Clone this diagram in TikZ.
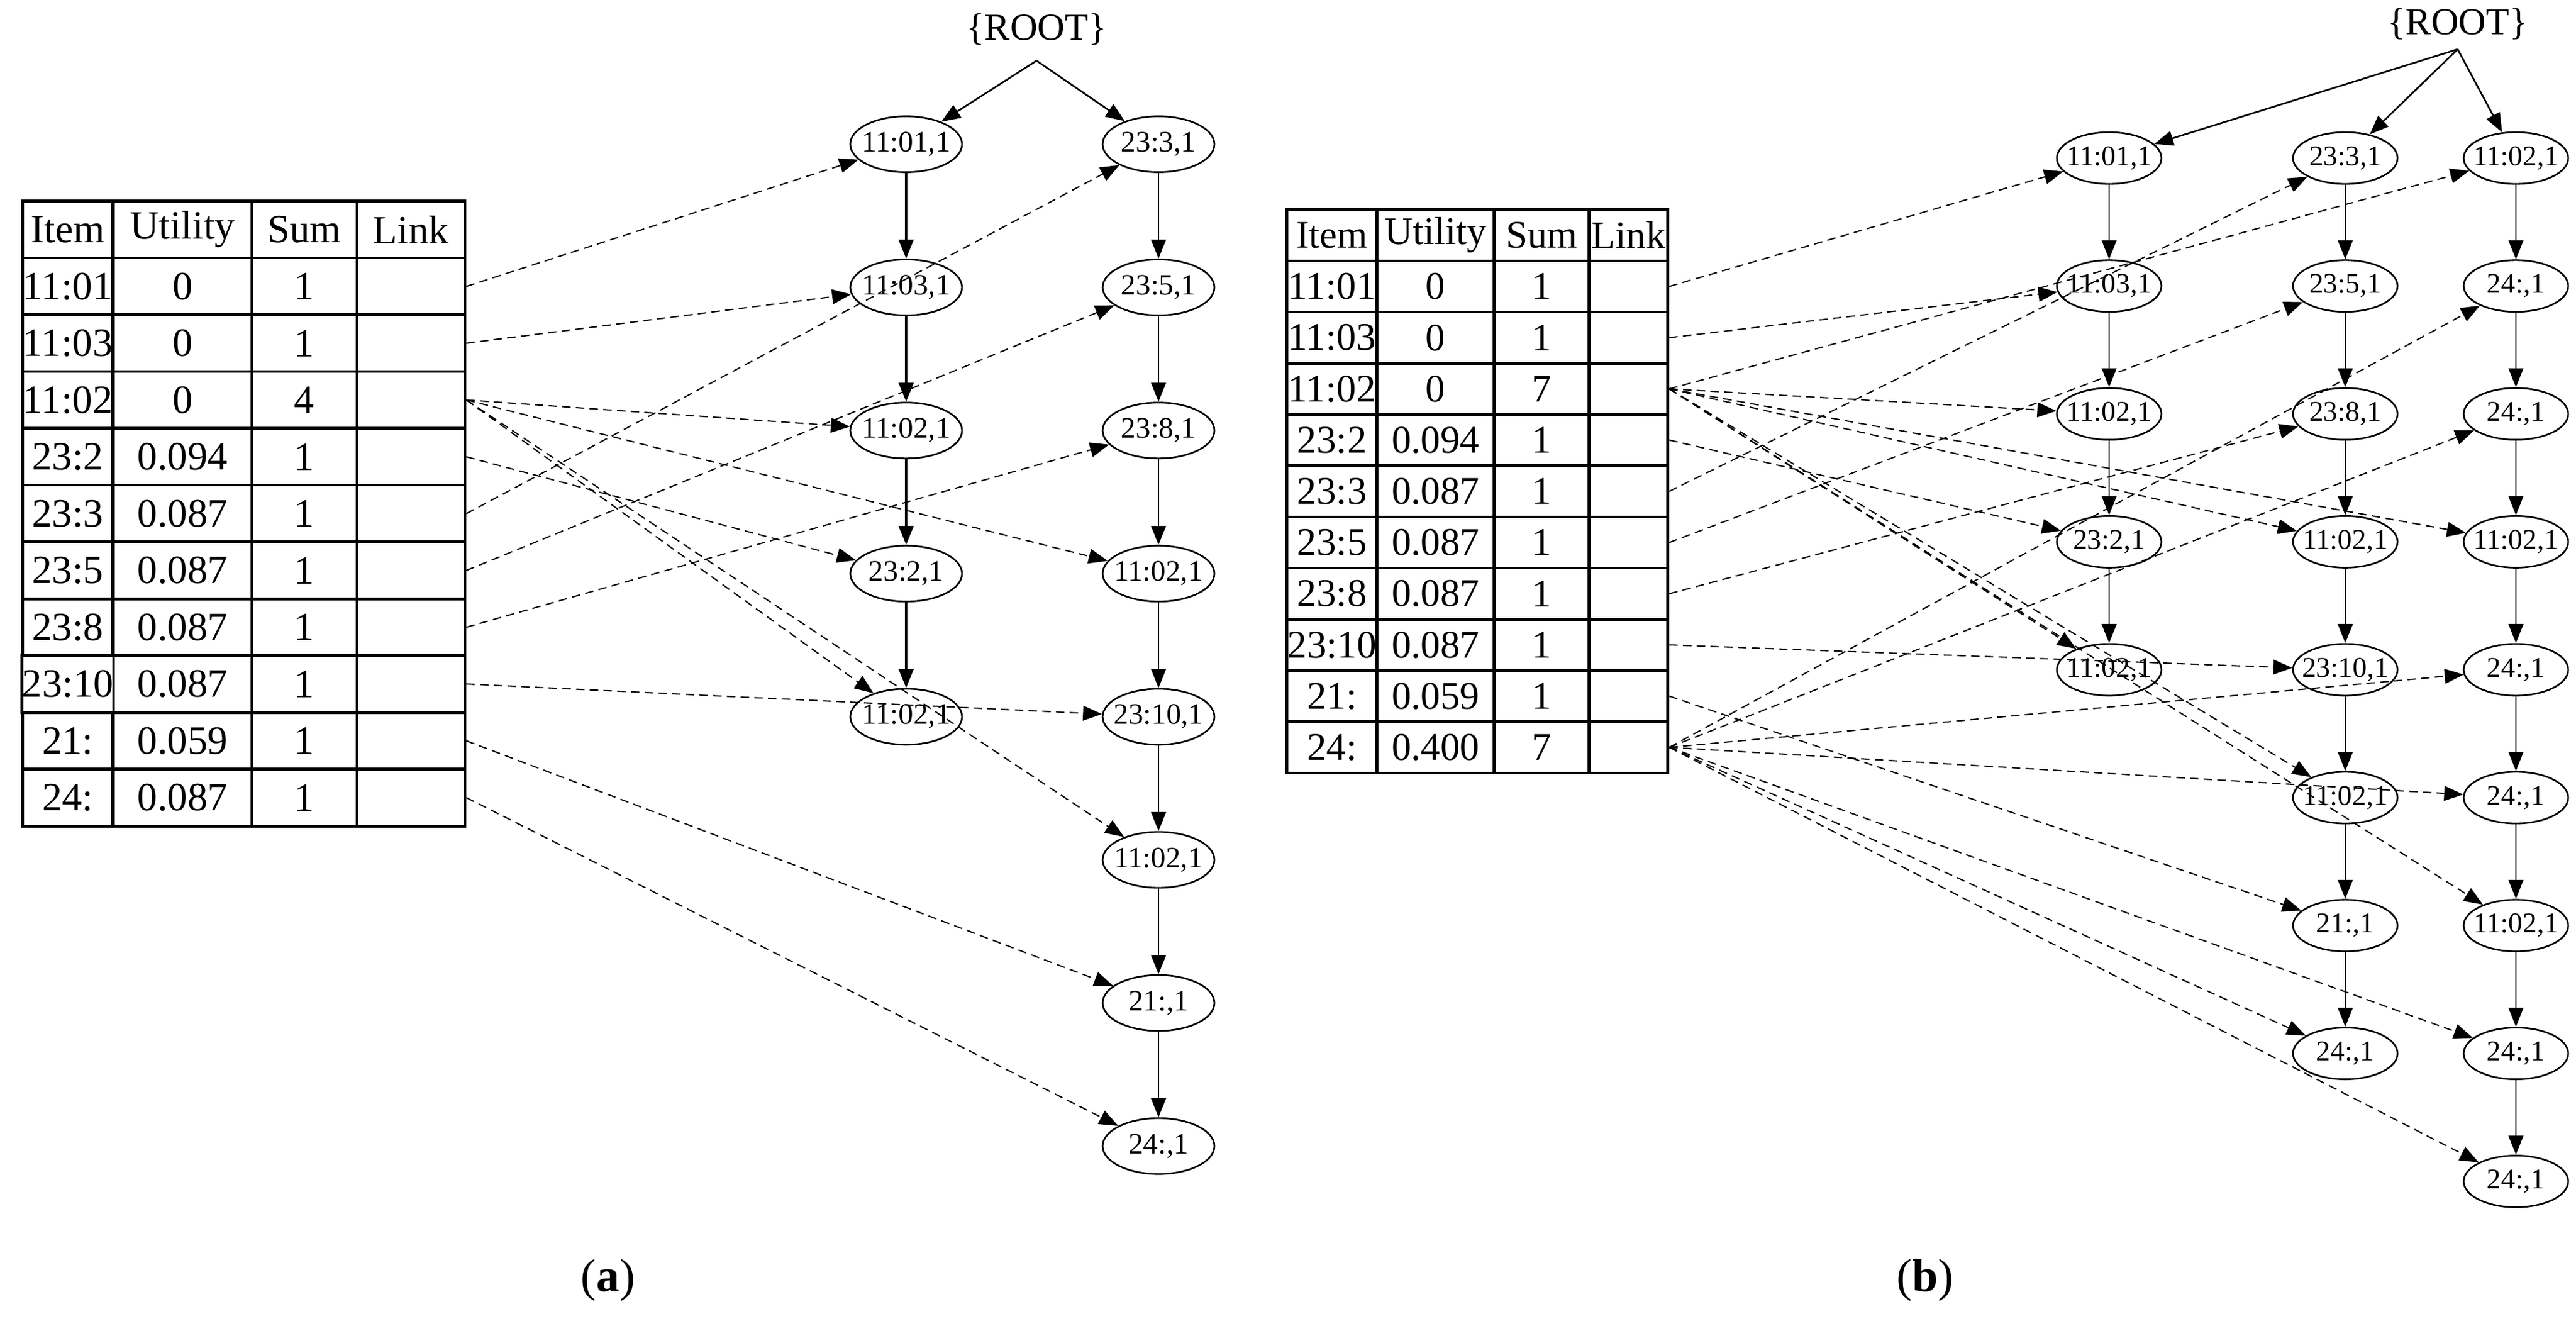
\documentclass[tikz,border=0pt]{standalone}
\usepackage{fontspec}
\setmainfont{Liberation Serif}
\usetikzlibrary{shapes.geometric,matrix,arrows.meta}

\begin{document}
\begin{tikzpicture}
\tikzset{
  NodeStyle/.style={ellipse, draw, line width=0.8pt, inner xsep=-3pt, inner ysep=0pt,
    minimum width=1.86cm, minimum height=0.93cm, font=\fontsize{14}{16}\selectfont},
  SmallNodeStyle/.style={NodeStyle, minimum width=1.74cm, minimum height=0.86cm,
    font=\fontsize{13.5}{15}\selectfont},
  LinkStyle/.style={line width=0.6pt, dash pattern=on 4pt off 2.5pt,
    -{Triangle[length=9pt,width=7pt]}},
  TreeStyle/.style={line width=0.8pt, -{Triangle[length=9pt,width=7pt]}},
  CellStyle/.style={draw, line width=1.3pt, inner sep=0pt, anchor=center,
    font=\fontsize{19}{21}\selectfont}
}
\useasboundingbox (0,0) rectangle (42.87,-22.06);

%% (a)
\matrix (ta) [matrix of nodes, nodes in empty cells, anchor=north west,
  nodes={CellStyle, minimum height=0.945cm}, row sep=-1.3pt, column sep=-1.3pt,
  column 1/.style={nodes={minimum width=1.50cm}},
  column 2/.style={nodes={minimum width=2.30cm}},
  column 3/.style={nodes={minimum width=1.75cm}},
  column 4/.style={nodes={minimum width=1.80cm}}] at (0.22,-3.20) {
  Item & Utility & Sum & Link \\
  11:01 & 0 & 1 & \\
  11:03 & 0 & 1 & \\
  11:02 & 0 & 4 & \\
  23:2 & 0.094 & 1 & \\
  23:3 & 0.087 & 1 & \\
  23:5 & 0.087 & 1 & \\
  23:8 & 0.087 & 1 & \\
  23:10 & 0.087 & 1 & \\
  21: & 0.059 & 1 & \\
  24: & 0.087 & 1 & \\
};

\foreach \t [count=\i from 0] in {{11:01,1},{11:03,1},{11:02,1},{23:2,1},{11:02,1}}
  \node[NodeStyle] (a1-\i) at (15.08,{-2.40-2.381*\i}) {\t};
\foreach \t [count=\i from 0] in {{23:3,1},{23:5,1},{23:8,1},{11:02,1},{23:10,1},{11:02,1},{21:,1},{24:,1}}
  \node[NodeStyle] (a2-\i) at (19.28,{-2.40-2.381*\i}) {\t};

\node[font=\fontsize{18}{20}\selectfont] (ra) at (17.25,-0.49) {\{ROOT\}};
\coordinate (ra-top) at (17.25,-1.01);
\draw[TreeStyle] (ra-top) -- (a1-0);
\draw[TreeStyle] (ra-top) -- (a2-0);
\foreach \i/\j in {0/1,1/2,2/3,3/4}
  \draw[TreeStyle, line width=1.1pt] (a1-\i) -- (a1-\j);
\foreach \i/\j in {0/1,1/2,2/3,3/4,4/5,5/6,6/7}
  \draw[TreeStyle] (a2-\i) -- (a2-\j);

\foreach \r/\n in {2/a1-0, 3/a1-1, 4/a1-2, 4/a2-3, 4/a1-4, 4/a2-5, 5/a1-3,
                   6/a2-0, 7/a2-1, 8/a2-2, 9/a2-4, 10/a2-6, 11/a2-7}
  \draw[LinkStyle] (ta-\r-4.east) -- (\n);

\node[font=\fontsize{22}{26}\selectfont] (capa) at (10.12,-21.30) {(\textbf{a})};

%% (b)
\matrix (tb) [matrix of nodes, nodes in empty cells, anchor=north west,
  nodes={CellStyle, minimum height=0.852cm, font=\fontsize{18.5}{20}\selectfont},
  row sep=-1.3pt, column sep=-1.3pt,
  column 1/.style={nodes={minimum width=1.50cm}},
  column 2/.style={nodes={minimum width=1.95cm}},
  column 3/.style={nodes={minimum width=1.58cm}},
  column 4/.style={nodes={minimum width=1.31cm}}] at (21.27,-3.34) {
  Item & Utility & Sum & Link \\
  11:01 & 0 & 1 & \\
  11:03 & 0 & 1 & \\
  11:02 & 0 & 7 & \\
  23:2 & 0.094 & 1 & \\
  23:3 & 0.087 & 1 & \\
  23:5 & 0.087 & 1 & \\
  23:8 & 0.087 & 1 & \\
  23:10 & 0.087 & 1 & \\
  21: & 0.059 & 1 & \\
  24: & 0.400 & 7 & \\
};

\foreach \t [count=\i from 0] in {{11:01,1},{11:03,1},{11:02,1},{23:2,1},{11:02,1}}
  \node[SmallNodeStyle] (b1-\i) at (35.10,{-2.63-2.128*\i}) {\t};
\foreach \t [count=\i from 0] in {{23:3,1},{23:5,1},{23:8,1},{11:02,1},{23:10,1},{11:02,1},{21:,1},{24:,1}}
  \node[SmallNodeStyle] (b2-\i) at (39.03,{-2.63-2.128*\i}) {\t};
\foreach \t [count=\i from 0] in {{11:02,1},{24:,1},{24:,1},{11:02,1},{24:,1},{24:,1},{11:02,1},{24:,1},{24:,1}}
  \node[SmallNodeStyle] (b3-\i) at (41.87,{-2.63-2.128*\i}) {\t};

\node[font=\fontsize{18}{20}\selectfont] (rb) at (40.90,-0.40) {\{ROOT\}};
\coordinate (rb-top) at (40.90,-0.82);
\draw[TreeStyle] (rb-top) -- (b1-0);
\draw[TreeStyle] (rb-top) -- (b2-0);
\draw[TreeStyle] (rb-top) -- (b3-0);
\foreach \i/\j in {0/1,1/2,2/3,3/4}
  \draw[TreeStyle] (b1-\i) -- (b1-\j);
\foreach \i/\j in {0/1,1/2,2/3,3/4,4/5,5/6,6/7}
  \draw[TreeStyle] (b2-\i) -- (b2-\j);
\foreach \i/\j in {0/1,1/2,2/3,3/4,4/5,5/6,6/7,7/8}
  \draw[TreeStyle] (b3-\i) -- (b3-\j);

\foreach \r/\n in {2/b1-0, 3/b1-1,
                   4/b1-2, 4/b2-3, 4/b3-3, 4/b1-4, 4/b2-5, 4/b3-6, 4/b3-0,
                   5/b1-3, 6/b2-0, 7/b2-1, 8/b2-2, 9/b2-4, 10/b2-6,
                   11/b3-1, 11/b3-2, 11/b3-4, 11/b3-5, 11/b2-7, 11/b3-7, 11/b3-8}
  \draw[LinkStyle] (tb-\r-4.east) -- (\n);

\node[font=\fontsize{22}{26}\selectfont] (capb) at (32.04,-21.30) {(\textbf{b})};
\end{tikzpicture}
\end{document}
